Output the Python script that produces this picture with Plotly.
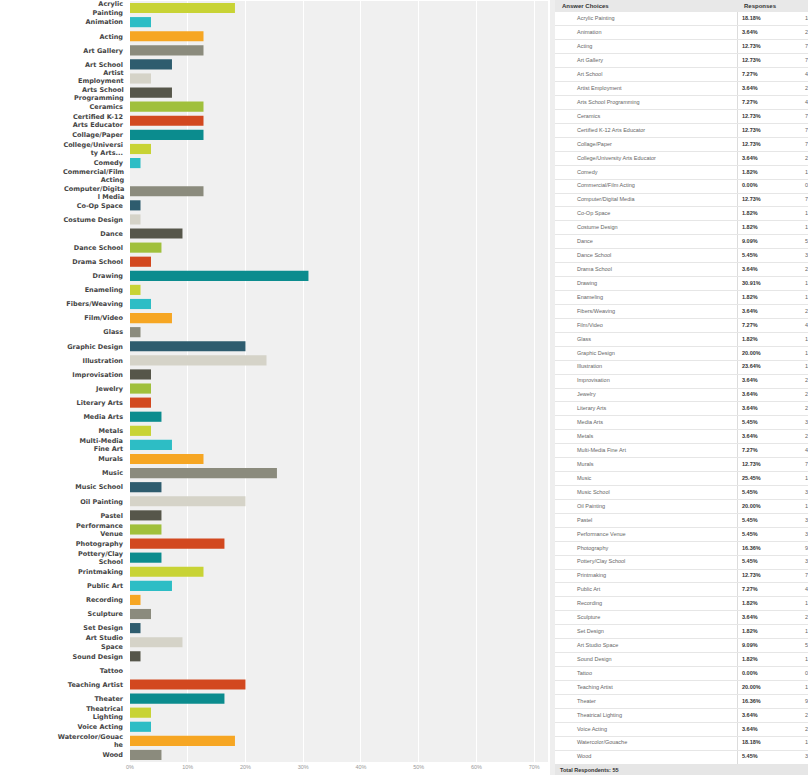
import plotly.graph_objects as go

categories = [
    "Acrylic Painting", "Animation", "Acting", "Art Gallery", "Art School",
    "Artist Employment", "Arts School Programming", "Ceramics",
    "Certified K-12 Arts Educator", "Collage/Paper",
    "College/University Arts Educator", "Comedy", "Commercial/Film Acting",
    "Computer/Digital Media", "Co-Op Space", "Costume Design", "Dance",
    "Dance School", "Drama School", "Drawing", "Enameling", "Fibers/Weaving",
    "Film/Video", "Glass", "Graphic Design", "Illustration", "Improvisation",
    "Jewelry", "Literary Arts", "Media Arts", "Metals", "Multi-Media Fine Art",
    "Murals", "Music", "Music School", "Oil Painting", "Pastel",
    "Performance Venue", "Photography", "Pottery/Clay School", "Printmaking",
    "Public Art", "Recording", "Sculpture", "Set Design", "Art Studio Space",
    "Sound Design", "Tattoo", "Teaching Artist", "Theater",
    "Theatrical Lighting", "Voice Acting", "Watercolor/Gouache", "Wood",
]

axis_labels = [
    "Acrylic<br>Painting", "Animation", "Acting", "Art Gallery", "Art School",
    "Artist<br>Employment", "Arts School<br>Programming", "Ceramics",
    "Certified K-12<br>Arts Educator", "Collage/Paper",
    "College/Universi<br>ty Arts...", "Comedy", "Commercial/Film<br>Acting",
    "Computer/Digita<br>l Media", "Co-Op Space", "Costume Design", "Dance",
    "Dance School", "Drama School", "Drawing", "Enameling", "Fibers/Weaving",
    "Film/Video", "Glass", "Graphic Design", "Illustration", "Improvisation",
    "Jewelry", "Literary Arts", "Media Arts", "Metals", "Multi-Media<br>Fine Art",
    "Murals", "Music", "Music School", "Oil Painting", "Pastel",
    "Performance<br>Venue", "Photography", "Pottery/Clay<br>School", "Printmaking",
    "Public Art", "Recording", "Sculpture", "Set Design", "Art Studio<br>Space",
    "Sound Design", "Tattoo", "Teaching Artist", "Theater",
    "Theatrical<br>Lighting", "Voice Acting", "Watercolor/Gouac<br>he", "Wood",
]

percents = [
    18.18, 3.64, 12.73, 12.73, 7.27, 3.64, 7.27, 12.73, 12.73, 12.73,
    3.64, 1.82, 0.00, 12.73, 1.82, 1.82, 9.09, 5.45, 3.64, 30.91,
    1.82, 3.64, 7.27, 1.82, 20.00, 23.64, 3.64, 3.64, 3.64, 5.45,
    3.64, 7.27, 12.73, 25.45, 5.45, 20.00, 5.45, 5.45, 16.36, 5.45,
    12.73, 7.27, 1.82, 3.64, 1.82, 9.09, 1.82, 0.00, 20.00, 16.36,
    3.64, 3.64, 18.18, 5.45,
]

counts = [
    10, 2, 7, 7, 4, 2, 4, 7, 7, 7,
    2, 1, 0, 7, 1, 1, 5, 3, 2, 17,
    1, 2, 4, 1, 11, 13, 2, 2, 2, 3,
    2, 4, 7, 14, 3, 11, 3, 3, 9, 3,
    7, 4, 1, 2, 1, 5, 1, 0, 11, 9,
    2, 2, 10, 3,
]

x_tick_values = [0, 10, 20, 30, 40, 50, 60, 70]
x_tick_labels = ["0%", "10%", "20%", "30%", "40%", "50%", "60%", "70%"]
table_headers = ["Answer Choices", "Responses"]
total_respondents = 55

palette = ["#c8d335", "#2dbdc5", "#f6a623", "#8b8b7d", "#2e5c6e",
           "#d5d3c8", "#56564a", "#a0c03c", "#d2481f", "#0b8c8e"]
bar_colors = [palette[i % len(palette)] for i in range(len(categories))]

# adjacent two-line labels are nudged apart slightly (pixels, + = up)
label_nudge = {
    "Artist Employment": 1.5, "Arts School Programming": -1.5,
    "Commercial/Film Acting": 1.5, "Computer/Digital Media": -1.5,
}

W, H = 808, 775
TFONT = "Arial, Liberation Sans, sans-serif"
LFONT = dict(family="DejaVu Sans", size=6.5, color="#444444", weight="bold")
n = len(categories)
fig = go.Figure()

# ---- bar chart ----
fig.add_trace(go.Bar(
    x=percents, y=categories, orientation="h",
    marker=dict(color=bar_colors, line=dict(width=0)),
    hoverinfo="x+y", showlegend=False, xaxis="x", yaxis="y",
))

# ---- table drawn as text on its own axes ----
fig.add_trace(go.Scatter(
    x=[22] * n, y=categories, mode="text",
    text=categories, textposition="middle right",
    textfont=dict(family=TFONT, size=5.5, color="#666666"),
    hoverinfo="skip", showlegend=False, xaxis="x2", yaxis="y2", cliponaxis=True,
))
fig.add_trace(go.Scatter(
    x=[187] * n, y=categories, mode="text",
    text=["<b>%.2f%%</b>" % p for p in percents], textposition="middle right",
    textfont=dict(family=TFONT, size=5.5, color="#333333"),
    hoverinfo="skip", showlegend=False, xaxis="x2", yaxis="y2", cliponaxis=True,
))
fig.add_trace(go.Scatter(
    x=[250] * n, y=categories, mode="text",
    text=[str(c) for c in counts], textposition="middle right",
    textfont=dict(family=TFONT, size=5.5, color="#666666"),
    hoverinfo="skip", showlegend=False, xaxis="x2", yaxis="y2", cliponaxis=True,
))

tick_text = [("" if c in label_nudge else t) for c, t in zip(categories, axis_labels)]
annotations = [
    dict(text=t, xref="paper", yref="y", x=124.5 / W, y=c,
         xanchor="right", yanchor="middle", align="right",
         yshift=label_nudge[c], showarrow=False, font=LFONT, borderpad=0)
    for c, t in zip(categories, axis_labels) if c in label_nudge
]
annotations += [
    dict(text="<b>%s</b>" % table_headers[0], xref="paper", yref="paper",
         x=560 / W, y=769 / H, xanchor="left", yanchor="middle",
         showarrow=False, font=dict(family=TFONT, size=6, color="#333333")),
    dict(text="<b>%s</b>" % table_headers[1], xref="paper", yref="paper",
         x=742 / W, y=769 / H, xanchor="left", yanchor="middle",
         showarrow=False, font=dict(family=TFONT, size=6, color="#333333")),
    dict(text="<b>Total Respondents: %d</b>" % total_respondents,
         xref="paper", yref="paper", x=558 / W, y=5.5 / H,
         xanchor="left", yanchor="middle", showarrow=False,
         font=dict(family=TFONT, size=5.5, color="#333333")),
]

fig.update_layout(
    width=W, height=H,
    margin=dict(l=0, r=0, t=0, b=0),
    paper_bgcolor="white",
    plot_bgcolor="white",
    bargap=0.28,
    xaxis=dict(
        domain=[130 / W, 548 / W], range=[0, 72.4],
        tickvals=x_tick_values, ticktext=x_tick_labels,
        showgrid=True, gridcolor="white", gridwidth=1,
        zeroline=False, showline=False, automargin=False,
        tickfont=dict(family=TFONT, size=5.5, color="#999999"),
        fixedrange=True,
    ),
    yaxis=dict(
        domain=[13 / H, 774 / H],
        categoryorder="array", categoryarray=categories,
        range=[n - 0.5, -0.5],
        tickvals=categories, ticktext=tick_text,
        showgrid=False, zeroline=False, showline=False, automargin=False,
        ticklabelstandoff=6,
        tickfont=LFONT,
        fixedrange=True,
    ),
    xaxis2=dict(
        domain=[555 / W, 1.0], range=[0, 253], anchor="y2",
        tickvals=[182], showticklabels=False, ticks="",
        showgrid=True, gridcolor="#dcdcdc", gridwidth=1,
        zeroline=False, showline=False, automargin=False, fixedrange=True,
    ),
    yaxis2=dict(
        domain=[11 / H, 763 / H], anchor="x2",
        categoryorder="array", categoryarray=categories,
        range=[n - 0.5, -0.5], tickson="boundaries",
        tickmode="array", tickvals=categories,
        showticklabels=False, ticks="",
        showgrid=True, gridcolor="#e6e6e6", gridwidth=1,
        zeroline=False, showline=False, automargin=False, fixedrange=True,
    ),
    shapes=[
        dict(type="rect", xref="x domain", yref="y domain",
             x0=0, x1=1, y0=0, y1=1,
             fillcolor="#f0f0f0", line=dict(width=0), layer="below"),
        dict(type="rect", xref="paper", yref="paper",
             x0=550 / W, x1=555 / W, y0=0, y1=1,
             fillcolor="#eeeeee", line=dict(width=0), layer="below"),
        dict(type="rect", xref="paper", yref="paper",
             x0=555 / W, x1=1, y0=763 / H, y1=1,
             fillcolor="#e8e8e8", line=dict(width=0), layer="below"),
        dict(type="rect", xref="paper", yref="paper",
             x0=555 / W, x1=1, y0=0, y1=11 / H,
             fillcolor="#e6e6e6", line=dict(width=0), layer="below"),
    ],
    annotations=annotations,
)

fig.write_html("out.html", config={"displayModeBar": False},
               post_script="document.body.style.margin='0';")
